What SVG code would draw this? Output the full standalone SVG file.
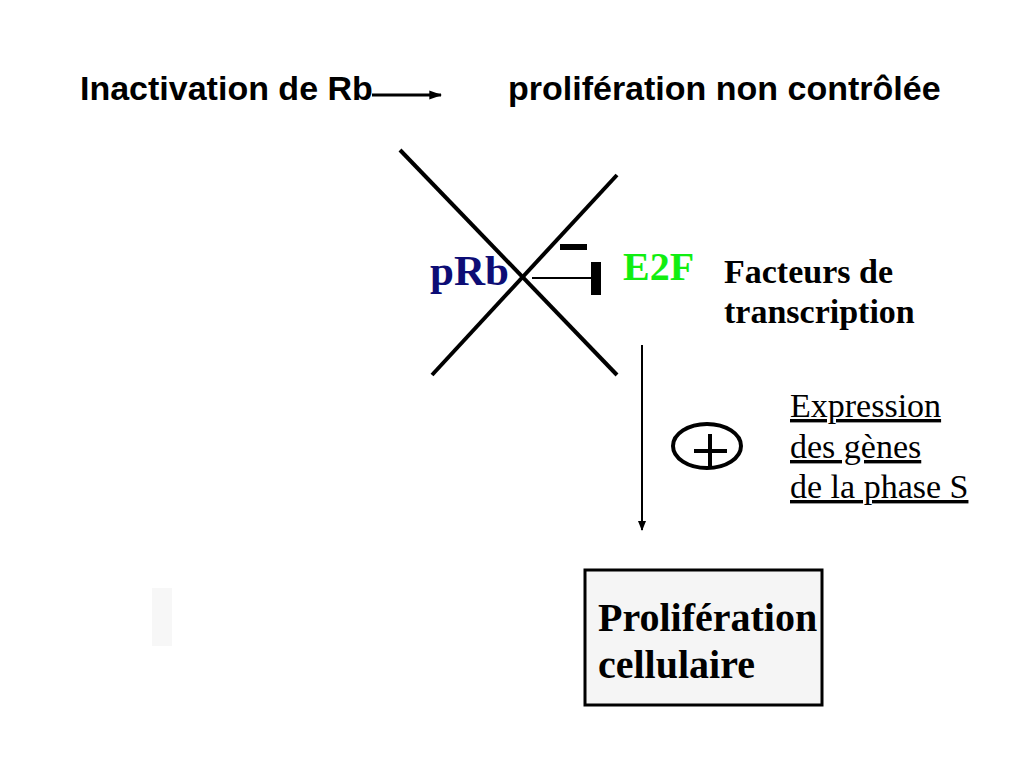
<svg xmlns="http://www.w3.org/2000/svg" width="1024" height="768" viewBox="0 0 1024 768">
<defs>
<style>
.sans{font-family:"Liberation Sans",Arial,sans-serif;font-weight:bold;fill:#000}
.serif{font-family:"Liberation Serif","Times New Roman",serif;fill:#000}
.b{font-weight:bold}
.ln{stroke:#000;fill:none}
</style>
<marker id="arr" viewBox="0 0 10 10" refX="9" refY="5" markerWidth="10" markerHeight="10" markerUnits="userSpaceOnUse" orient="auto">
<path d="M0,1 L10,5 L0,9 Z" fill="#000"/>
</marker>
<marker id="arrBig" viewBox="0 0 10 10" refX="9" refY="5" markerWidth="13" markerHeight="11" markerUnits="userSpaceOnUse" orient="auto" preserveAspectRatio="none">
<path d="M0,1 L10,5 L0,9 Z" fill="#000"/>
</marker>
</defs>
<rect width="1024" height="768" fill="#fff"/>
<rect x="152" y="588" width="20" height="58" fill="#f7f7f7"/>
<g id="title">
<text class="sans" x="80" y="100" font-size="34">Inactivation de Rb</text>
<text class="sans" x="508" y="100" font-size="34">prolifération non contrôlée</text>
</g>
<g id="prb"><text class="serif b" x="430" y="285" font-size="43" style="fill:#0d0d75">pRb</text></g>
<g id="e2f"><text class="serif b" x="623" y="280" font-size="40" style="fill:#11ee11">E2F</text></g>
<g id="facteurs">
<text class="serif b" x="724" y="283" font-size="34">Facteurs de</text>
<text class="serif b" x="724" y="323" font-size="34">transcription</text>
</g>
<g id="expression">
<text class="serif" x="790" y="417" font-size="34" text-decoration="underline">Expression</text>
<text class="serif" x="790" y="458" font-size="34" text-decoration="underline">des gènes </text>
<text class="serif" x="790" y="498" font-size="34" text-decoration="underline">de la phase S</text>
</g>
<g id="plus">
<ellipse cx="707" cy="446" rx="34" ry="22" class="ln" stroke-width="4"/>
<line x1="694" y1="451" x2="727" y2="451" class="ln" stroke-width="4"/>
<line x1="710" y1="434" x2="710" y2="467" class="ln" stroke-width="4"/>
</g>
<g id="proliferation">
<rect x="585" y="570" width="237" height="135" fill="#f5f5f5" stroke="#000" stroke-width="3"/>
<text class="serif b" x="598" y="631" font-size="40">Prolifération</text>
<text class="serif b" x="598" y="678" font-size="40">cellulaire</text>
</g>
<g id="connectors">
<line x1="372" y1="95" x2="441" y2="95" class="ln" stroke-width="3" marker-end="url(#arrBig)"/>
<line x1="532" y1="278" x2="594" y2="278" class="ln" stroke-width="2"/>
<rect x="591" y="262" width="10" height="33" fill="#000"/>
<rect x="560" y="244" width="27" height="6" fill="#000"/>
<line x1="642" y1="345" x2="642" y2="530" class="ln" stroke-width="2" marker-end="url(#arr)"/>
<line x1="400" y1="150" x2="617" y2="375" class="ln" stroke-width="4"/>
<line x1="617" y1="175" x2="432" y2="375" class="ln" stroke-width="4"/>
</g>
</svg>
